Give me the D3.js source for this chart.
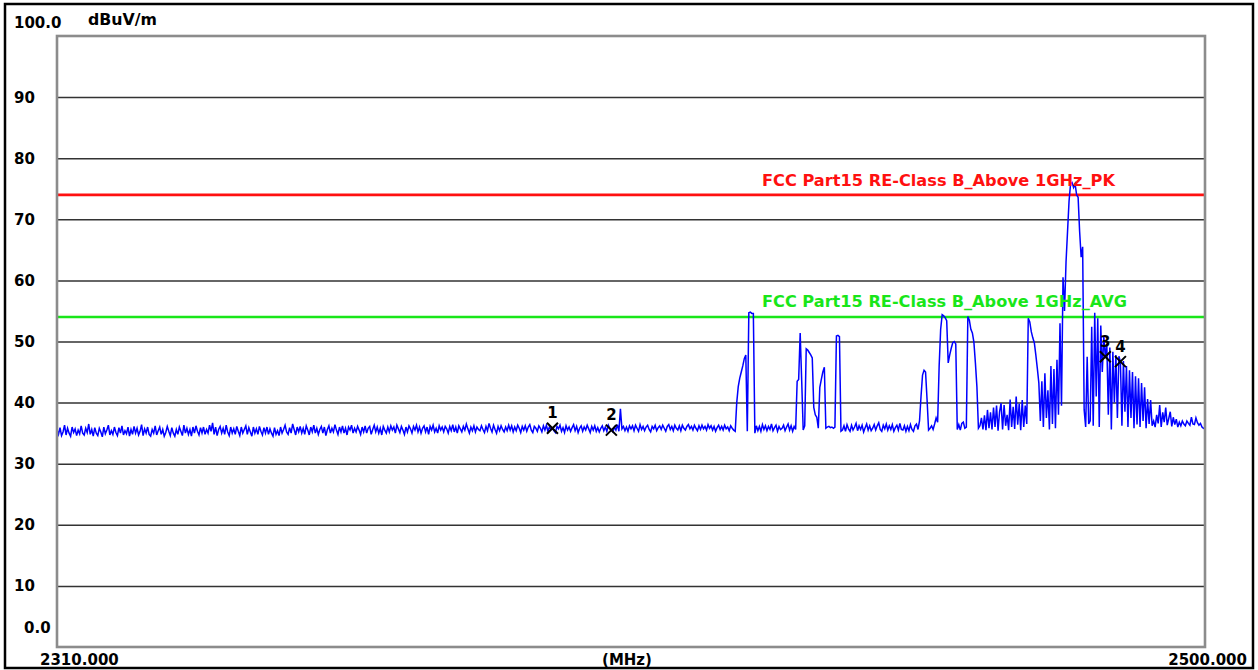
<!DOCTYPE html>
<html>
<head>
<meta charset="utf-8">
<script src="https://cdn.jsdelivr.net/npm/d3@7"></script>
<style>
  html, body { margin: 0; padding: 0; background: #fff; }
  svg { display: block; }
  text { font-family: "DejaVu Sans", "Liberation Sans", sans-serif; font-weight: bold; }
</style>
</head>
<body>
<svg id="chart" width="1258" height="670"></svg>
<script>
// Sweep settings (MHz)
const freqStart = 2310;
const freqStop = 2500;
const traceStep = 0.25;

// Level axis
const levelTicks = [0, 10, 20, 30, 40, 50, 60, 70, 80, 90, 100];
const levelTickLabels = ["0.0", "10", "20", "30", "40", "50", "60", "70", "80", "90", "100.0"];
const levelUnit = "dBuV/m";
const freqLabels = ["2310.000", "(MHz)", "2500.000"];

// Measured trace, dBuV/m, one value every 0.25 MHz from 2310 MHz (20 values = 5 MHz per row)
const traceLevels = [
  35.6, 34.8, 35.9, 34.6, 35.2, 36.3, 34.7, 35.8, 35.0, 34.5, 36.0, 35.1, 35.7, 34.6, 35.5, 34.9, 36.2, 35.0, 34.7, 35.8,
  35.1, 36.5, 34.8, 35.6, 34.5, 35.9, 35.0, 34.6, 35.8, 35.2, 34.4, 36.0, 34.9, 35.5, 36.3, 34.7, 35.4, 34.8, 36.0, 35.1,
  34.6, 35.9, 35.0, 36.2, 34.7, 35.4, 34.9, 36.0, 34.5, 35.6, 34.8, 36.1, 35.0, 35.8, 34.7, 35.3, 36.4, 34.6, 35.7, 35.0,
  36.0, 34.8, 34.5, 35.6, 35.0, 36.2, 34.7, 35.4, 36.0, 34.8, 35.6, 34.5, 35.1, 36.1, 35.3, 34.6, 35.9, 35.0, 34.5, 35.6,
  34.8, 36.0, 35.3, 34.6, 36.3, 35.0, 35.8, 34.8, 35.6, 34.5, 36.0, 35.0, 36.2, 35.3, 34.7, 35.9, 35.0, 36.0, 34.8, 35.6,
  35.0, 36.3, 35.3, 36.7, 34.8, 36.0, 34.6, 35.6, 36.1, 35.0, 35.8, 34.8, 36.3, 35.2, 34.6, 36.0, 35.0, 35.7, 34.8, 36.1,
  35.3, 34.6, 36.0, 35.0, 35.6, 36.2, 34.8, 35.9, 35.2, 34.5, 36.0, 35.0, 35.7, 34.8, 36.1, 35.3, 34.7, 35.9, 35.0, 36.0,
  34.8, 35.7, 35.0, 34.5, 35.9, 34.8, 35.4, 34.6, 36.0, 35.0, 35.6, 36.3, 35.2, 34.8, 35.9, 35.0, 36.5, 35.6, 34.7, 36.0,
  35.2, 36.1, 35.0, 35.8, 34.8, 36.2, 35.5, 34.7, 36.0, 35.2, 36.3, 35.0, 35.8, 34.8, 35.6, 36.1, 35.0, 36.0, 34.6, 35.6,
  36.2, 35.0, 35.8, 35.2, 36.4, 35.5, 34.8, 36.0, 35.2, 36.2, 35.0, 35.8, 34.7, 36.0, 35.5, 36.3, 35.0, 35.8, 35.2, 36.1,
  35.5, 34.8, 36.0, 35.2, 36.2, 35.0, 35.8, 36.1, 34.8, 35.6, 36.3, 35.2, 36.0, 35.0, 35.8, 34.7, 36.1, 35.5, 35.0, 36.0,
  35.2, 36.2, 35.5, 36.0, 35.0, 36.3, 35.7, 35.1, 36.1, 35.5, 34.8, 36.0, 35.2, 36.2, 35.7, 35.0, 36.1, 35.5, 36.3, 35.2,
  36.0, 35.0, 35.8, 36.2, 35.2, 36.0, 34.8, 36.1, 35.5, 36.3, 35.2, 35.8, 35.0, 36.2, 35.5, 36.0, 35.2, 36.1, 35.7, 35.0,
  36.1, 35.4, 36.4, 35.2, 36.0, 35.0, 36.2, 35.7, 35.2, 36.1, 35.5, 36.5, 35.7, 35.0, 36.0, 35.4, 36.2, 35.2, 36.0, 35.6,
  35.4, 36.2, 35.6, 35.1, 36.1, 35.4, 36.6, 35.8, 35.2, 36.3, 35.6, 35.0, 36.1, 35.4, 36.2, 35.6, 35.2, 36.0, 35.4, 36.3,
  35.5, 36.2, 35.2, 36.0, 35.4, 36.3, 35.8, 35.1, 36.1, 35.5, 36.2, 35.3, 36.0, 36.4, 35.5, 35.1, 36.1, 35.8, 35.3, 36.2,
  35.8, 35.2, 36.2, 35.5, 36.3, 35.3, 36.0, 35.6, 35.8, 35.4, 35.1, 36.1, 35.7, 36.3, 35.3, 35.9, 35.1, 36.2, 35.5, 36.0,
  35.3, 35.9, 36.4, 35.4, 36.1, 35.1, 35.8, 36.2, 35.3, 36.0, 35.5, 36.3, 35.7, 35.1, 36.1, 35.5, 36.2, 35.3, 35.9, 35.2,
  35.8, 36.2, 35.4, 36.0, 35.3, 36.3, 35.8, 35.5, 35.2, 36.0, 35.5, 36.4, 35.3, 39.0, 35.7, 36.1, 35.4, 36.0, 35.3, 36.2,
  35.7, 36.2, 35.4, 36.3, 35.8, 35.3, 36.4, 35.6, 36.1, 35.4, 36.0, 36.3, 35.6, 35.2, 36.1, 35.7, 36.3, 35.4, 35.9, 36.2,
  35.6, 36.3, 35.8, 35.3, 36.1, 36.4, 35.6, 36.1, 35.4, 36.3, 35.8, 35.5, 36.2, 35.4, 36.3, 35.8, 35.5, 36.1, 36.4, 35.7,
  36.1, 35.5, 36.3, 35.8, 35.4, 36.2, 35.6, 36.3, 35.7, 36.1, 35.5, 36.4, 35.8, 36.2, 35.5, 36.1, 35.3, 35.9, 36.3, 35.6,
  36.1, 35.5, 36.3, 35.7, 36.0, 35.4, 36.2, 35.8, 35.5, 35.3, 40.0, 42.6, 44.0, 45.0, 46.0, 47.2, 47.8, 35.3, 54.7, 54.8,
  54.6, 54.6, 35.0, 36.2, 35.4, 36.1, 35.3, 36.4, 35.6, 36.2, 35.4, 36.1, 35.6, 36.5, 35.4, 35.9, 36.3, 35.3, 36.1, 35.6,
  35.8, 36.3, 35.4, 36.0, 36.5, 35.5, 36.2, 35.3, 36.1, 35.6, 43.5, 43.8, 51.4, 43.6, 35.5, 36.2, 48.8, 48.6, 48.2, 47.8,
  47.3, 39.2, 38.0, 37.6, 35.8, 42.5, 43.8, 45.0, 45.8, 35.8, 36.0, 36.1, 35.9, 36.0, 35.8, 36.0, 50.9, 51.0, 50.8, 35.3,
  35.5, 36.2, 35.3, 36.4, 35.7, 35.3, 36.3, 35.5, 36.0, 36.6, 35.4, 36.2, 35.6, 36.3, 35.2, 35.9, 36.5, 35.5, 36.2, 35.4,
  35.8, 36.4, 35.5, 36.2, 36.7, 35.6, 35.3, 36.3, 35.7, 36.5, 35.5, 36.2, 35.6, 36.4, 35.3, 35.9, 36.3, 35.5, 36.6, 35.6,
  35.5, 36.2, 35.3, 36.1, 35.4, 36.4, 35.6, 35.3, 36.2, 36.5, 35.6, 37.0, 41.0, 44.5, 45.3, 45.0, 40.5, 35.5, 35.8, 36.2,
  35.6, 36.5, 37.5, 36.8, 46.0, 52.0, 54.4, 54.2, 53.9, 53.4, 46.5, 47.8, 48.9, 49.8, 50.0, 49.6, 35.6, 36.4, 35.5, 36.6,
  36.8, 35.8, 36.0, 54.1, 53.5, 52.0, 51.4, 49.9, 46.5, 42.6, 35.8, 36.2, 37.5, 35.6, 37.9, 35.5, 38.8, 35.8, 38.4, 35.6,
  39.2, 36.0, 39.5, 35.4, 38.5, 39.9, 35.6, 39.6, 36.2, 38.0, 35.5, 40.5, 36.0, 39.3, 35.7, 41.0, 36.4, 39.8, 35.5, 40.4,
  36.0, 39.5, 36.5, 53.8, 53.2, 51.6, 50.6, 49.8, 47.8, 45.6, 43.2, 37.0, 43.5, 36.0, 44.8, 37.5, 42.0, 35.6, 46.0, 36.5,
  45.5, 35.8, 47.0, 38.0, 53.0, 39.5, 60.5, 55.0, 63.0, 68.0, 73.0, 75.8, 76.0, 75.2, 75.8, 74.0, 73.6, 68.0, 63.8, 65.5,
  38.8, 36.0, 47.5, 36.5, 37.0, 52.4, 36.2, 54.7, 41.0, 53.8, 36.0, 52.6, 45.0, 50.8, 47.5, 49.6, 38.0, 49.0, 35.6, 48.3,
  40.0, 47.8, 37.5, 47.6, 46.7, 36.2, 46.8, 38.5, 46.0, 36.0, 45.3, 37.5, 45.0, 35.8, 44.3, 36.4, 44.0, 36.0, 43.2, 37.0,
  42.5, 35.8, 40.6, 36.5, 40.4, 36.2, 37.0, 36.0, 38.0, 36.6, 39.6, 36.0, 38.4, 36.8, 39.2, 36.3, 37.4, 38.5, 36.1, 37.6,
  36.4, 37.3, 36.0, 36.8, 36.2, 37.0, 36.5, 36.2, 37.0, 36.6, 36.3, 37.6, 36.5, 36.4, 37.5, 36.7, 36.3, 36.6, 36.0, 35.8,
  35.7
];

// Limit lines
const limitNames = ["FCC Part15 RE-Class B_Above 1GHz_PK", "FCC Part15 RE-Class B_Above 1GHz_AVG"];
const limitLevels = [74, 54];

// Markers (frequency in MHz)
const markerIds = ["1", "2", "3", "4"];
const markerFreqs = [2392, 2401.75, 2483.5, 2486];

// ---------------------------------------------------------------------------
const W = 1258, H = 670;
const plot = { left: 57, right: 1205, top: 36, bottom: 647 };
const svg = d3.select("#chart");

const x = d3.scaleLinear().domain([freqStart, freqStop]).range([plot.left, plot.right]);
const y = d3.scaleLinear().domain([0, 100]).range([plot.bottom, plot.top]);

const trace = traceLevels.map((v, i) => ({ f: freqStart + i * traceStep, v }));
const levelAt = f => traceLevels[Math.round((f - freqStart) / traceStep)];

// page background and outer border
svg.append("rect").attr("width", W).attr("height", H).attr("fill", "#fff");
svg.append("rect")
  .attr("x", 5).attr("y", 4).attr("width", W - 10).attr("height", H - 6)
  .attr("fill", "none").attr("stroke", "#000").attr("stroke-width", 2.5);

// horizontal grid
const grid = svg.append("g")
  .attr("transform", `translate(${plot.left},0)`)
  .call(d3.axisLeft(y).tickValues(levelTicks.slice(1, -1)).tickSize(-(plot.right - plot.left)).tickFormat(""));
grid.select(".domain").remove();
grid.selectAll(".tick line").attr("stroke", "#333").attr("stroke-width", 1.5);

// limit lines
const limitColors = ["#ff1010", "#19e619"];
limitLevels.forEach((lv, i) => {
  svg.append("line")
    .attr("x1", plot.left).attr("x2", plot.right)
    .attr("y1", y(lv)).attr("y2", y(lv))
    .attr("stroke", limitColors[i]).attr("stroke-width", 2.6);
});

// trace
svg.append("clipPath").attr("id", "plotClip")
  .append("rect").attr("x", plot.left).attr("y", plot.top)
  .attr("width", plot.right - plot.left).attr("height", plot.bottom - plot.top);

svg.append("path")
  .datum(trace)
  .attr("clip-path", "url(#plotClip)")
  .attr("fill", "none")
  .attr("stroke", "#0000ff")
  .attr("stroke-width", 1.5)
  .attr("d", d3.line().x(d => x(d.f)).y(d => y(d.v)));

// limit labels
const limitLabelWidth = [353, 365];
const limitLabelGap = [8.5, 10.3];
limitLevels.forEach((lv, i) => {
  svg.append("text")
    .attr("x", 762).attr("y", y(lv) - limitLabelGap[i])
    .attr("fill", limitColors[i])
    .attr("font-size", 15)
    .attr("textLength", limitLabelWidth[i])
    .attr("lengthAdjust", "spacingAndGlyphs")
    .text(limitNames[i]);
});

// markers
markerFreqs.forEach((f, i) => {
  const mx = x(f), my = y(levelAt(f));
  const s = 5.5;
  svg.append("path")
    .attr("d", `M${mx - s},${my - s}L${mx + s},${my + s}M${mx + s},${my - s}L${mx - s},${my + s}`)
    .attr("stroke", "#000").attr("stroke-width", 2).attr("fill", "none");
  svg.append("text")
    .attr("x", mx).attr("y", my - 10)
    .attr("text-anchor", "middle")
    .attr("font-size", 15)
    .attr("fill", "#000")
    .text(markerIds[i]);
});

// plot frame
svg.append("rect")
  .attr("x", plot.left).attr("y", plot.top)
  .attr("width", plot.right - plot.left).attr("height", plot.bottom - plot.top)
  .attr("fill", "none").attr("stroke", "#8c8c8c").attr("stroke-width", 2.6);

// level labels
levelTicks.forEach((t, i) => {
  let lx = 14, ly = y(t) + 5.5;
  if (t === 100) { ly = 28; }
  if (t === 0) { lx = 24; ly = 633; }
  svg.append("text")
    .attr("x", lx).attr("y", ly)
    .attr("font-size", 15).attr("fill", "#000")
    .text(levelTickLabels[i]);
});
svg.append("text")
  .attr("x", 88).attr("y", 25)
  .attr("font-size", 15).attr("fill", "#000")
  .attr("textLength", 69).attr("lengthAdjust", "spacingAndGlyphs")
  .text(levelUnit);

// frequency labels
svg.append("text").attr("x", 40).attr("y", 665).attr("font-size", 15).attr("fill", "#000").text(freqLabels[0]);
svg.append("text").attr("x", 627).attr("y", 665).attr("text-anchor", "middle").attr("font-size", 15).attr("fill", "#000").text(freqLabels[1]);
svg.append("text").attr("x", 1247).attr("y", 665).attr("text-anchor", "end").attr("font-size", 15).attr("fill", "#000").text(freqLabels[2]);
</script>
</body>
</html>
